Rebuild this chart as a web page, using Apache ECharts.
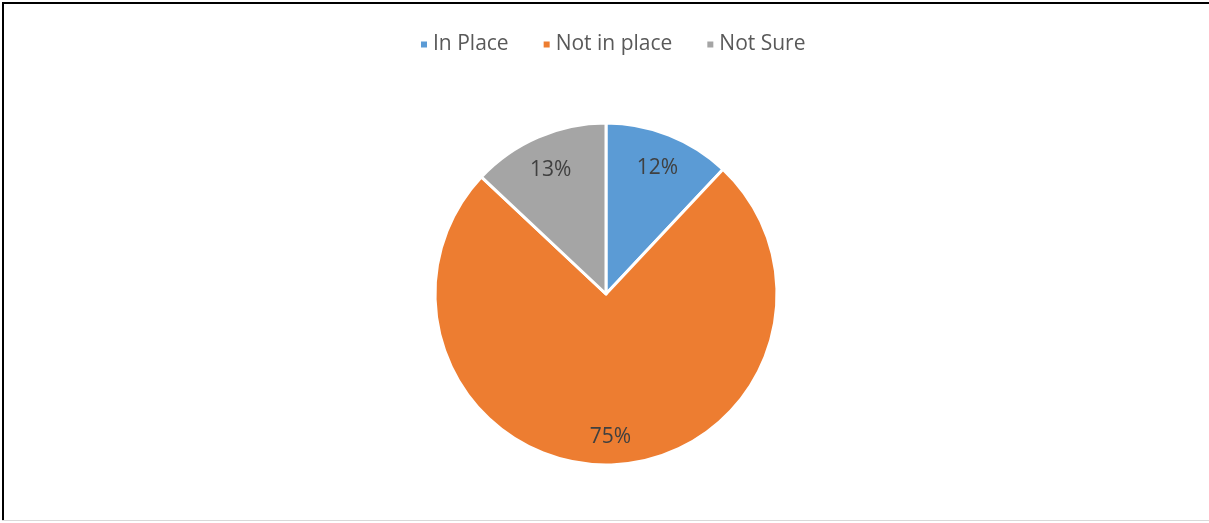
<!DOCTYPE html>
<html>
<head>
<meta charset="utf-8">
<script src="https://cdn.jsdelivr.net/npm/echarts@6/dist/echarts.min.js"></script>
<style>
  html, body { margin: 0; padding: 0; background: #fff; }
  #frame { position: absolute; left: 0; top: 0; width: 1209px; height: 523px; }
  #chart { position: absolute; left: 0; top: 0; width: 1209px; height: 523px; }
  .edge { position: absolute; }
</style>
</head>
<body>
<div id="frame">
  <div id="chart"></div>
  <div class="edge" style="left:2px;top:2px;width:1207px;height:2px;background:#000;"></div>
  <div class="edge" style="left:2px;top:2px;width:2px;height:519px;background:#000;"></div>
  <div class="edge" style="left:2px;top:520px;width:1207px;height:1px;background:#d9d9d9;"></div>
</div>
<script>
// Survey responses: is the measure in place?
const categories = ['In Place', 'Not in place', 'Not Sure'];
const shares = [12, 75, 13];
const colors = ['#5B9BD5', '#ED7D31', '#A5A5A5'];

const pieData = categories.map((name, i) => ({ name, value: shares[i] }));

const chart = echarts.init(document.getElementById('chart'), null, { renderer: 'canvas' });
chart.setOption({
  backgroundColor: 'transparent',
  animation: false,
  color: colors,
  legend: {
    top: 29,
    left: 414,
    data: categories,
    icon: 'rect',
    itemWidth: 8,
    itemHeight: 8,
    itemGap: 33,
    textStyle: { fontFamily: 'Open Sans', fontSize: 21, color: '#595959' }
  },
  series: [
    {
      type: 'pie',
      center: [606, 294],
      radius: [0, 171],
      startAngle: 90,
      clockwise: true,
      data: pieData,
      itemStyle: { borderColor: '#fff', borderWidth: 3 },
      label: { show: false },
      labelLine: { show: false },
      emphasis: { disabled: true }
    },
    {
      // transparent ring that only carries the percentage labels
      type: 'pie',
      center: [606, 294],
      radius: [102, 171],
      startAngle: 90,
      clockwise: true,
      silent: true,
      data: pieData,
      itemStyle: { color: 'rgba(0,0,0,0)' },
      label: {
        show: true,
        position: 'inside',
        offset: [0, 4],
        formatter: '{c}%',
        fontFamily: 'Open Sans',
        fontSize: 21,
        color: '#404040'
      },
      labelLine: { show: false },
      emphasis: { disabled: true }
    }
  ]
});
</script>
</body>
</html>
